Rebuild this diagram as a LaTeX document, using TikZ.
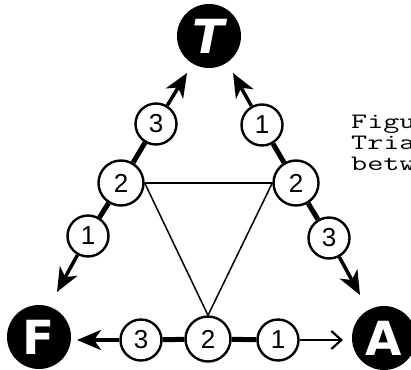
\documentclass[tikz,border=0pt]{standalone}
\usepackage{fontspec}
\setmainfont{Liberation Sans}
\newfontfamily\bigfont{DejaVu Sans}
\usetikzlibrary{arrows.meta}
\tikzset{
 big/.style={circle, fill=black, minimum size=64pt, inner sep=0pt, text=white, font=\bigfont\bfseries\fontsize{47}{47}\selectfont},
 num/.style={circle, draw, fill=white, line width=2.4pt, minimum size=41pt, inner sep=0pt, font=\fontsize{26}{26}\selectfont},
 numtwo/.style={num, minimum size=45pt},
 link/.style={line width=5pt},
 tri/.style={line width=1.5pt},
 head/.style={line width=3.5pt, -{Stealth[length=24pt,width=20pt,inset=7pt]}},
 openhead/.style={line width=2.2pt, -{Straight Barb[length=10pt,width=18pt]}},
 captext/.style={font=\ttfamily\fontsize{22}{21}\selectfont, anchor=north west, inner sep=0pt, align=left}
}
\newcommand{\wideline}[1]{\scalebox{1.42}[1]{#1}}
\begin{document}
\begin{tikzpicture}[x=1pt,y=-1pt]
\useasboundingbox (0,0) rectangle (411,369);
\clip (0,0) rectangle (411,369);
% big nodes
\node[big] (T) at (209,36) {\itshape T};
\node[big] (F) at (39,337) {F};
\node[big] (A) at (384,338) {A};
% arrow tips
\coordinate (TL) at (187,73);
\coordinate (TR) at (233,73);
\coordinate (FL) at (57,292);
\coordinate (AR) at (360,295);
\coordinate (BF) at (77,340);
\coordinate (BA) at (343,340);
% small nodes
\node[num] (L3) at (156,124) {3};
\node[numtwo] (L2) at (121,183) {2};
\node[num] (L1) at (88,236) {1};
\node[num] (R1) at (262,125) {1};
\node[numtwo] (R2) at (296,183) {2};
\node[num] (R3) at (329,238) {3};
\node[num] (B3) at (141,340) {3};
\node[numtwo] (B2) at (208,339) {2};
\node[num] (B1) at (278,340) {1};
% links
\draw[link] (L3) -- (L2);
\draw[link] (L2) -- (L1);
\draw[link] (R1) -- (R2);
\draw[link] (R2) -- (R3);
\draw[link] (B3) -- (B2);
\draw[link] (B2) -- (B1);
% inner triangle
\draw[tri] (L2.east) -- (R2.west);
\draw[tri] (L2.east) -- (B2.north);
\draw[tri] (R2.west) -- (B2.north);
% arrows
\draw[head] (L3) -- (TL);
\draw[head] (R1) -- (TR);
\draw[head] (L1) -- (FL);
\draw[head] (R3) -- (AR);
\draw[head] (B3) -- (BF);
\draw[openhead] (B1) -- (BA);
% caption
\node[captext] (cap) at (351,115) {\wideline{Figu}\\\wideline{Tria}\\\wideline{betw}};
\end{tikzpicture}
\end{document}
